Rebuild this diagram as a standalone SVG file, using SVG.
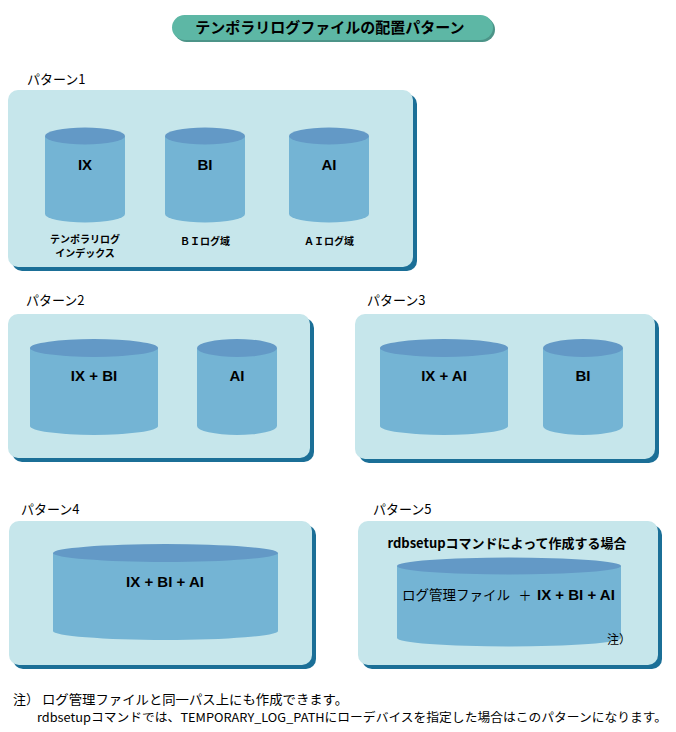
<svg xmlns="http://www.w3.org/2000/svg" width="676" height="732" viewBox="0 0 676 732">
<defs>
<style>
.bg{fill:#ffffff}
.shadow{fill:#1b6f97}
.panel{fill:#c6e6eb}
.body{fill:#74b4d4}
.top{fill:#6399c6}
.jp{font-family:"Noto Sans CJK JP","Liberation Sans",sans-serif;fill:#000}
.lat{font-family:"Liberation Sans","Noto Sans CJK JP",sans-serif;font-weight:bold;fill:#000}
.plabel{font-size:13px}
.clabel{font-size:15px;text-anchor:middle}
.small{font-size:10px;font-weight:bold;text-anchor:middle}
.foot{font-size:13px}
</style>
</defs>
<rect class="bg" x="0" y="0" width="676" height="732"/>

<g id="title">
<rect x="174" y="17" width="321" height="25" rx="12.5" fill="#4c9488"/>
<rect x="172" y="15" width="321" height="25" rx="12.5" fill="#5db7a5"/>
<text class="jp" x="330" y="33" font-size="15" font-weight="bold" text-anchor="middle">テンポラリログファイルの配置パターン</text>
</g>

<g id="pattern1">
<text class="jp plabel" x="27" y="84">パターン1</text>
<rect class="shadow" x="12" y="94" width="405" height="177" rx="10"/>
<rect class="panel" x="8" y="90" width="405" height="177" rx="10"/>
<g id="p1-ix">
<path class="body" d="M45,136 L45,214 A40,8.5 0 0 0 125,214 L125,136 Z"/>
<ellipse class="top" cx="85" cy="136" rx="40" ry="8.5"/>
<text class="lat clabel" x="85" y="170">IX</text>
<text class="jp small" x="85" y="243">テンポラリログ</text>
<text class="jp small" x="85" y="257">インデックス</text>
</g>
<g id="p1-bi">
<path class="body" d="M165,136 L165,214 A40,8.5 0 0 0 245,214 L245,136 Z"/>
<ellipse class="top" cx="205" cy="136" rx="40" ry="8.5"/>
<text class="lat clabel" x="205" y="170">BI</text>
<text class="jp small" x="205" y="245">ＢＩログ域</text>
</g>
<g id="p1-ai">
<path class="body" d="M289,136 L289,214 A40,8.5 0 0 0 369,214 L369,136 Z"/>
<ellipse class="top" cx="329" cy="136" rx="40" ry="8.5"/>
<text class="lat clabel" x="329" y="170">AI</text>
<text class="jp small" x="329" y="245">ＡＩログ域</text>
</g>
</g>

<g id="pattern2">
<text class="jp plabel" x="26" y="305">パターン2</text>
<rect class="shadow" x="12" y="318" width="302" height="144" rx="10"/>
<rect class="panel" x="8" y="314" width="302" height="144" rx="10"/>
<g id="p2-ixbi">
<path class="body" d="M30,348 L30,426 A64,9 0 0 0 158,426 L158,348 Z"/>
<ellipse class="top" cx="94" cy="348" rx="64" ry="9"/>
<text class="lat clabel" x="94" y="381">IX + BI</text>
</g>
<g id="p2-ai">
<path class="body" d="M197,348 L197,426 A40,9 0 0 0 277,426 L277,348 Z"/>
<ellipse class="top" cx="237" cy="348" rx="40" ry="9"/>
<text class="lat clabel" x="237" y="381">AI</text>
</g>
</g>

<g id="pattern3">
<text class="jp plabel" x="367" y="305">パターン3</text>
<rect class="shadow" x="359" y="318" width="300" height="145" rx="10"/>
<rect class="panel" x="355" y="314" width="300" height="145" rx="10"/>
<g id="p3-ixai">
<path class="body" d="M380,348 L380,426 A64,9 0 0 0 508,426 L508,348 Z"/>
<ellipse class="top" cx="444" cy="348" rx="64" ry="9"/>
<text class="lat clabel" x="444" y="381">IX + AI</text>
</g>
<g id="p3-bi">
<path class="body" d="M543,348 L543,426 A40,9 0 0 0 623,426 L623,348 Z"/>
<ellipse class="top" cx="583" cy="348" rx="40" ry="9"/>
<text class="lat clabel" x="583" y="381">BI</text>
</g>
</g>

<g id="pattern4">
<text class="jp plabel" x="21" y="514">パターン4</text>
<rect class="shadow" x="13" y="525" width="303" height="144" rx="10"/>
<rect class="panel" x="9" y="521" width="303" height="144" rx="10"/>
<g id="p4-all">
<path class="body" d="M53,553 L53,631 A112.5,9 0 0 0 278,631 L278,553 Z"/>
<ellipse class="top" cx="165.5" cy="553" rx="112.5" ry="9"/>
<text class="lat clabel" x="165" y="587">IX + BI + AI</text>
</g>
</g>

<g id="pattern5">
<text class="jp plabel" x="373" y="514">パターン5</text>
<rect class="shadow" x="362" y="525" width="300" height="144" rx="10"/>
<rect class="panel" x="358" y="521" width="300" height="144" rx="10"/>
<text class="jp" x="507" y="548" font-size="13" font-weight="bold" text-anchor="middle">rdbsetupコマンドによって作成する場合</text>
<g id="p5-all">
<path class="body" d="M397,566 L397,638 A112,8.5 0 0 0 621,638 L621,566 Z"/>
<ellipse class="top" cx="509" cy="566" rx="112" ry="8.5"/>
<text class="jp" x="402" y="600" font-size="13.5">ログ管理ファイル</text>
<text class="jp" x="525" y="600" font-size="13" text-anchor="middle">＋</text>
<text class="lat" x="537" y="600" font-size="15">IX + BI + AI</text>
<text class="jp" x="607" y="644" font-size="12">注）</text>
</g>
</g>

<g id="connectors"></g>

<g id="footnote">
<text class="jp foot" x="13" y="704">注）</text>
<text class="jp foot" x="42" y="704" textLength="306" lengthAdjust="spacingAndGlyphs">ログ管理ファイルと同一パス上にも作成できます。</text>
<text class="jp" font-size="12" x="37" y="722" textLength="630" lengthAdjust="spacingAndGlyphs">rdbsetupコマンドでは、TEMPORARY_LOG_PATHにローデバイスを指定した場合はこのパターンになります。</text>
</g>
</svg>
